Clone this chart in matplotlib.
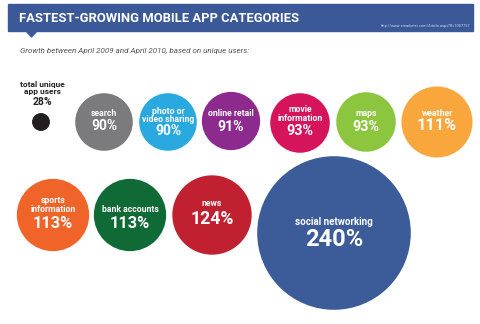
import matplotlib.pyplot as plt
from matplotlib.patches import Circle, Rectangle, Polygon

plt.rcParams['font.family'] = ['Roboto', 'DejaVu Sans']

# data
labels = ["total unique\napp users", "search", "photo or\nvideo sharing", "online retail",
          "movie\ninformation", "maps", "weather", "sports\ninformation",
          "bank accounts", "news", "social networking"]
growth = [28, 90, 90, 91, 93, 93, 111, 113, 113, 124, 240]
colors = ["#231f20", "#7b7b7d", "#2aa9e0", "#8c2b8d", "#d6145c", "#8cc63f",
          "#f9a63c", "#f0642a", "#0f6a36", "#c0202f", "#3b5b99"]

# layout (pixel centres of each bubble, text offsets from centre)
cx = [41, 104, 168, 231, 300, 366, 437, 53, 130, 212, 334]
cy = [122, 122, 122, 121, 123, 122, 122, 215, 215, 215, 233]
lab_dy = [-34, -8, -6.5, -7, -9, -9, -9, -10, -6, -11, -11]
pct_dy = [-20, 4, 9, 6, 8, 5, 4, 8, 8, 4, 6]
scale = 0.32  # radius in px per % point

fig = plt.figure(figsize=(4.8, 3.24), dpi=100)
ax = fig.add_axes([0, 0, 1, 1])
ax.set_xlim(0, 480)
ax.set_ylim(324, 0)
ax.set_aspect("equal")
ax.axis("off")

# header band
blue = "#3b5998"
ax.add_patch(Rectangle((8, 4), 465, 27, color=blue))
ax.add_patch(Polygon([(26, 31), (37, 31), (31.5, 37)], color=blue))
ax.text(19, 18.5, "FASTEST-GROWING MOBILE APP CATEGORIES", color="white",
        fontsize=9.4, fontweight="bold", va="center", ha="left")
ax.text(470, 26, "http://www.emarketer.com/Article.aspx?R=1007757", color="#c8d3ea",
        fontsize=2.8, va="center", ha="right")
ax.text(20, 51, "Growth between April 2009 and April 2010, based on unique users:",
        color="#555555", fontsize=5.8, style="italic", va="center", ha="left")

for i, (lab, val, c) in enumerate(zip(labels, growth, colors)):
    ax.add_patch(Circle((cx[i], cy[i]), val * scale, color=c, lw=0))
    if i == 0:
        ax.text(cx[i] + 1, cy[i] + lab_dy[i], lab, color="#222222", fontsize=6,
                fontweight="bold", ha="center", va="center", linespacing=0.95)
        ax.text(cx[i] + 1, cy[i] + pct_dy[i], f"{val}%", color="#222222", fontsize=7.5,
                fontweight="bold", ha="center", va="center")
        continue
    pct_size = 10 + (val - 90) * 0.08 if val < 200 else 17
    lab_size = 6.2 if val < 200 else 7
    ax.text(cx[i], cy[i] + lab_dy[i], lab, color="white", fontsize=lab_size,
            fontweight="bold", ha="center", va="center", linespacing=0.95)
    ax.text(cx[i], cy[i] + pct_dy[i], f"{val}%", color="white", fontsize=pct_size,
            fontweight="bold", ha="center", va="center")

fig.savefig("out.png", dpi=100)
